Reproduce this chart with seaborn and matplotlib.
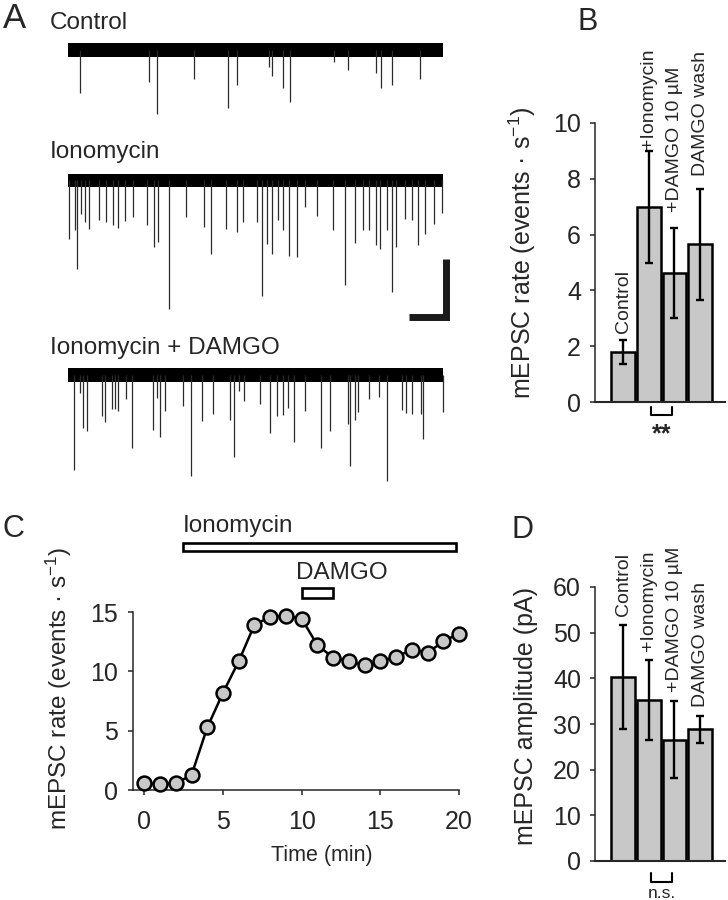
import numpy as np
import pandas as pd
import matplotlib
matplotlib.use("Agg")
import matplotlib.pyplot as plt
from matplotlib.patches import Rectangle
import seaborn as sns

# --- DATA ---
# A: example traces, event times (s) and amplitudes (pA)
ctrl_t = [0.32, 2.15, 2.37, 3.36, 4.27, 4.49, 5.35, 5.43, 5.72, 5.91, 7.08, 7.45, 8.19, 8.34, 8.62, 9.37]
ctrl_amp = [15, 11, 22, 10, 20, 12, 6, 9, 13, 18, 4, 7, 8, 13, 12, 10]

iono_t = [0.03, 0.19, 0.25, 0.34, 0.45, 0.56, 0.83, 1.02, 1.21, 1.34, 1.52, 1.74, 2.10, 2.30,
          2.39, 2.70, 3.13, 3.61, 3.80, 4.20, 4.49, 4.67, 5.04, 5.16, 5.30, 5.42, 5.58, 5.73,
          5.89, 6.10, 6.32, 6.63, 7.07, 7.38, 7.64, 7.85, 8.02, 8.21, 8.30, 8.50, 8.64, 8.73,
          8.98, 9.15, 9.31, 9.50, 9.75, 9.97]
iono_amp = [20.1, 17.2, 30.5, 11.5, 14.4, 16.9, 13.8, 14.4, 15.2, 16.3, 14.1, 12.6, 15.2, 23.0,
            21.3, 44.3, 12.6, 15.9, 25.3, 16.7, 17.6, 14.4, 14.4, 39.9, 21.8, 25.5, 13.8, 17.2,
            26.2, 26.4, 9.2, 12.1, 17.2, 36.0, 21.6, 17.2, 17.0, 22.4, 23.7, 17.2, 38.5, 22.8,
            13.2, 13.8, 22.2, 18.4, 14.9, 11.3]

damgo_t = [0.15, 0.31, 0.40, 0.50, 0.91, 0.99, 1.16, 1.25, 1.32, 1.54, 1.71, 2.27, 2.38, 2.46,
           2.58, 3.05, 3.28, 3.56, 3.87, 4.31, 4.43, 4.55, 4.70, 5.12, 5.37, 5.57, 5.73, 5.86,
           6.01, 6.30, 6.75, 6.99, 7.46, 7.50, 7.64, 7.73, 8.01, 8.29, 8.50, 8.89, 8.99, 9.15,
           9.39, 9.45, 9.99]
damgo_amp = [32.8, 6.4, 18.4, 19.3, 14.1, 16.2, 11.8, 11.8, 12.6, 8.4, 25.4, 19.0, 8.0, 21.3,
             12.4, 10.7, 34.9, 15.9, 13.6, 15.5, 28.5, 5.5, 9.0, 10.1, 20.2, 14.1, 13.8, 11.3,
             23.1, 12.6, 25.1, 19.5, 17.0, 31.6, 15.5, 13.0, 8.4, 7.8, 36.8, 12.2, 13.3, 13.6,
             13.6, 22.2, 12.8]

trace_names = ["Control", "Ionomycin", "Ionomycin + DAMGO"]
TRACE_LEN = 10     # s
NOISE_PA = 2.4     # half width of baseline noise band
SCALE_T = 1        # s
SCALE_PA = 20      # pA

# B: mEPSC rate
conditions = ["Control", "+Ionomycin", "+DAMGO 10 µM", "DAMGO wash"]
rate_mean = [1.8, 7.0, 4.62, 5.65]
rate_sem = [0.43, 2.0, 1.6, 1.98]

# C: time course
time_min = list(range(21))
rate_time = [0.56, 0.50, 0.56, 1.26, 5.27, 8.19, 10.85, 13.93, 14.58, 14.66, 14.44,
             12.2, 11.16, 10.85, 10.51, 10.85, 11.21, 11.83, 11.55, 12.53, 13.18]
drug_names = ["Ionomycin", "DAMGO"]
drug_start = [2.45, 10.03]
drug_end = [19.82, 11.96]

# D: mEPSC amplitude
amp_mean = [40.3, 35.2, 26.6, 28.8]
amp_sem = [11.3, 8.8, 8.5, 2.9]

# --- STYLE ---
sns.set_style("ticks")
plt.rcParams['font.family'] = ['Liberation Sans', 'DejaVu Sans']
plt.rcParams['mathtext.default'] = 'regular'
GRAY = "#c8c8c8"

W, H = 728, 900
fig = plt.figure(figsize=(W / 100, H / 100), dpi=100)


def rect(l, t, r, b):
    return [l / W, 1 - b / H, (r - l) / W, (b - t) / H]


def ftext(x, y, s, **kw):
    fig.text(x / W, 1 - y / H, s, **kw)


# ---------- A ----------
ax_a = fig.add_axes(rect(68, 30, 451, 500))
ax_a.set_xlim(0, 10.2)
ax_a.set_ylim(-155.2, 6.9)
ax_a.axis("off")
offsets = [0, -45, -112]
for off, tt, aa in zip(offsets, [ctrl_t, iono_t, damgo_t], [ctrl_amp, iono_amp, damgo_amp]):
    ax_a.fill_between([0, TRACE_LEN], off - NOISE_PA, off + NOISE_PA, color="black", lw=0)
    ax_a.vlines(tt, off, off - np.array(aa), color="#2a2a2a", lw=0.9)
sx, sy = 10.08, -92
ax_a.plot([sx - SCALE_T, sx, sx], [sy, sy, sy + SCALE_PA], color="#1a1a1a", lw=5,
          solid_joinstyle="miter", solid_capstyle="butt")

ftext(3, 28, "A", fontsize=25, va="baseline")
for name, yb in zip(trace_names, [29, 158, 354]):
    ftext(50, yb, name, fontsize=17.5, va="baseline")


# ---------- bar panels ----------
def bar_panel(ax, means, sems, ymax, ystep, pads):
    df = pd.DataFrame({"cond": conditions, "val": means})
    sns.barplot(data=df, x="cond", y="val", color=GRAY, saturation=1, edgecolor="black",
                linewidth=1.8, width=0.92, errorbar=None, ax=ax)
    ax.errorbar(range(len(means)), means, yerr=sems, fmt="none", ecolor="black",
                elinewidth=1.7, capsize=3.2, capthick=1.7, zorder=5)
    ax.set_xlim(-1.1, 3.97)
    ax.set_ylim(0, ymax)
    ax.set_yticks(np.arange(0, ymax + 1, ystep))
    ax.set_xticks([])
    ax.set_xlabel("")
    sns.despine(ax=ax)
    ax.spines["left"].set_linewidth(1.1)
    ax.spines["bottom"].set_linewidth(1.5)
    ax.tick_params(axis="y", length=3.6, width=1.1, pad=6.5, labelsize=18)
    for i, (m, e, p) in enumerate(zip(means, sems, pads)):
        ax.annotate(conditions[i], (i, m + e), xytext=(0, p), textcoords="offset points",
                    rotation=90, ha="center", va="bottom", fontsize=14)


ax_b = fig.add_axes(rect(595, 123, 725, 402))
bar_panel(ax_b, rate_mean, rate_sem, 10, 2, [5, 1.5, 11.5, 9.4])
ax_b.set_ylabel("mEPSC rate (events · s$^{-1}$)", fontsize=18)
ax_b.yaxis.set_label_coords(-0.44, 0.535)
ax_b.plot([1.1, 1.1, 1.9, 1.9], [-0.18, -0.46, -0.46, -0.18], color="black", lw=1.5, clip_on=False)
ax_b.text(1.5, -1.42, "**", fontsize=18, fontweight="bold", ha="center", va="baseline")
ftext(578, 30, "B", fontsize=22, va="baseline")

ax_d = fig.add_axes(rect(595, 587, 725, 861))
bar_panel(ax_d, amp_mean, amp_sem, 60, 10, [6.5, 6.5, 6.5, 6.5])
ax_d.set_ylabel("mEPSC amplitude (pA)", fontsize=18)
ax_d.yaxis.set_label_coords(-0.44, 0.53)
ax_d.plot([1.1, 1.1, 1.9, 1.9], [-2.6, -4.6, -4.6, -2.6], color="black", lw=1.5, clip_on=False)
ax_d.text(1.5, -8.1, "n.s.", fontsize=12.5, ha="center", va="baseline")
ftext(512, 538, "D", fontsize=22, va="baseline")

# ---------- C ----------
ax_c = fig.add_axes(rect(133, 612, 459, 790))
df_c = pd.DataFrame({"time": time_min, "rate": rate_time})
sns.lineplot(data=df_c, x="time", y="rate", color="black", lw=1.8, marker="o", markersize=10,
             markerfacecolor=GRAY, markeredgecolor="black", markeredgewidth=1.8,
             clip_on=False, zorder=5, ax=ax_c)
ax_c.set_xlim(-0.72, 20)
ax_c.set_ylim(0, 15)
ax_c.set_xticks([0, 5, 10, 15, 20])
ax_c.set_yticks([0, 5, 10, 15])
sns.despine(ax=ax_c)
for s in ["left", "bottom"]:
    ax_c.spines[s].set_linewidth(1.1)
ax_c.tick_params(axis="x", length=3.6, width=1.1, pad=11, labelsize=18)
ax_c.tick_params(axis="y", length=3.6, width=1.1, pad=7, labelsize=18)
ax_c.set_xlabel("Time (min)", fontsize=15.5)
ax_c.xaxis.set_label_coords(0.58, -0.31)
ax_c.set_ylabel("mEPSC rate (events · s$^{-1}$)", fontsize=17.5)
ax_c.yaxis.set_label_coords(-0.18, 0.573)

bar_y = [20.15, 16.17]
bar_h = [0.65, 0.82]
text_xy = [(2.45, 21.72), (9.63, 17.75)]
for name, s0, s1, y0, h, (tx, ty) in zip(drug_names, drug_start, drug_end, bar_y, bar_h, text_xy):
    ax_c.add_patch(Rectangle((s0, y0), s1 - s0, h, facecolor="white", edgecolor="black",
                             lw=1.9, clip_on=False))
    ax_c.text(tx, ty, name, fontsize=17.5, ha="left", va="baseline")

ftext(3, 537, "C", fontsize=22, va="baseline")

plt.savefig("out.png", dpi=100)
